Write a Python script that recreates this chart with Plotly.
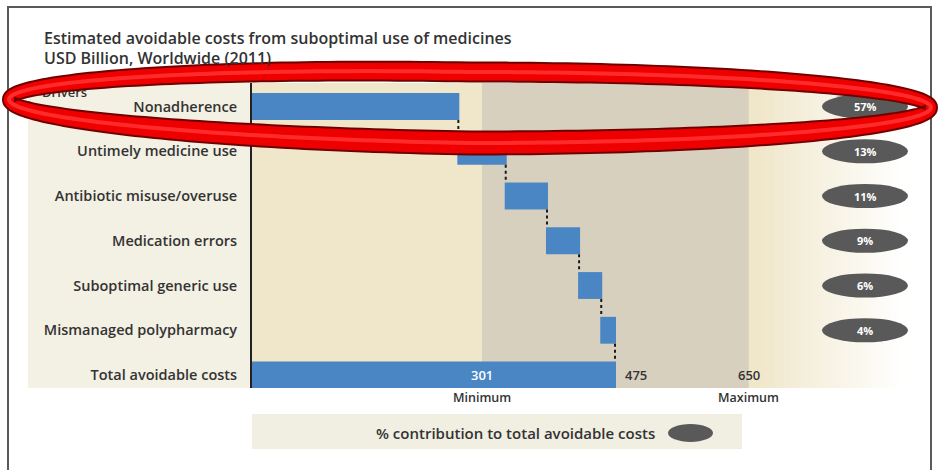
import math
import plotly.graph_objects as go

# ---- data -------------------------------------------------------------
drivers = [
    "Nonadherence",
    "Untimely medicine use",
    "Antibiotic misuse/overuse",
    "Medication errors",
    "Suboptimal generic use",
    "Mismanaged polypharmacy",
    "Total avoidable costs",
]
costs_bn = [270, 62, 54, 42, 29, 18]          # USD billion per driver
share_labels = ["57%", "13%", "11%", "9%", "6%", "4%"]
estimate_values = [301, 650]                   # range of the total estimate
estimate_labels = ["Minimum", "Maximum"]
title_lines = [
    "Estimated avoidable costs from suboptimal use of medicines",
    "USD Billion, Worldwide (2011)",
]
legend_text = "% contribution to total avoidable costs"

# ---- styling ----------------------------------------------------------
W, H = 939, 470
FONT = "Open Sans"
TEXT = "#333333"
BLUE = "#4a86c4"
CREAM = (240, 231, 203)
PANEL = "#f3f0e4"
BAND = "#d8d0bf"
PILL = "#595959"


def px(x):
    return x / W


def py(y):
    return 1 - y / H


# plot area in pixels
PL, PR, PT, PB = 252, 880, 83, 388
UNITS_PER_PX = 475 / 363
x_max = (PR - PL) * UNITS_PER_PX

measures = ["relative"] * len(costs_bn) + ["total"]
values = costs_bn + [0]

fig = go.Figure()

fig.add_trace(go.Waterfall(
    orientation="h",
    y=drivers,
    x=values,
    measure=measures,
    width=0.6,
    increasing=dict(marker=dict(color=BLUE)),
    totals=dict(marker=dict(color=BLUE)),
    decreasing=dict(marker=dict(color=BLUE)),
    connector=dict(mode="between", line=dict(color="#1a1a1a", width=2, dash="dot")),
    textinfo="none",
    hoverinfo="skip",
    showlegend=False,
))

# Heading of the label column, partly hidden under the red ring
fig.add_trace(go.Scatter(
    x=[42], y=[94], mode="text", text=["Drivers"], textposition="middle right",
    textfont=dict(family=FONT, size=13, color=TEXT, weight=600),
    xaxis="x2", yaxis="y2", cliponaxis=False, hoverinfo="skip", showlegend=False,
))

shapes = []
# left label panel
shapes.append(dict(type="rect", xref="paper", yref="paper",
                   x0=px(28), x1=px(PL), y0=py(PB), y1=py(PT),
                   fillcolor=PANEL, line=dict(width=0), layer="below"))
# cream plot area fading to white on the right
fade_start, fade_end = 760, 905
shapes.append(dict(type="rect", xref="paper", yref="paper",
                   x0=px(PL), x1=px(fade_start), y0=py(PB), y1=py(PT),
                   fillcolor="rgb(%d,%d,%d)" % CREAM, line=dict(width=0), layer="below"))
steps = 30
for i in range(steps):
    t = (i + 0.5) / steps
    c = tuple(int(round(CREAM[k] + (255 - CREAM[k]) * t)) for k in range(3))
    x0 = fade_start + (fade_end - fade_start) * i / steps
    x1 = fade_start + (fade_end - fade_start) * (i + 1) / steps + 0.6
    shapes.append(dict(type="rect", xref="paper", yref="paper",
                       x0=px(x0), x1=px(x1), y0=py(PB), y1=py(PT),
                       fillcolor="rgb(%d,%d,%d)" % c, line=dict(width=0), layer="below"))
# min-max estimate band
shapes.append(dict(type="rect", xref="x", yref="paper",
                   x0=estimate_values[0], x1=estimate_values[1], y0=py(PB), y1=py(PT),
                   fillcolor=BAND, line=dict(width=0), layer="below"))
# legend box
shapes.append(dict(type="rect", xref="paper", yref="paper",
                   x0=px(PL), x1=px(742), y0=py(449), y1=py(414),
                   fillcolor="#f1eee2", line=dict(width=0), layer="below"))
shapes.append(dict(type="circle", xref="paper", yref="paper",
                   x0=px(668), x1=px(713), y0=py(442), y1=py(424),
                   fillcolor=PILL, line=dict(width=0), layer="above"))
# share pills
for i, lab in enumerate(share_labels):
    shapes.append(dict(type="circle", xref="paper", yref="y",
                       x0=px(822), x1=px(908), y0=i - 0.27, y1=i + 0.27,
                       fillcolor=PILL, line=dict(width=0), layer="above"))
# outer frame
shapes.append(dict(type="rect", xref="paper", yref="paper",
                   x0=px(8), x1=px(931), y0=py(480), y1=py(7),
                   fillcolor="rgba(0,0,0,0)", line=dict(color="#5a5a5a", width=2),
                   layer="above"))


# red hand-drawn style ring around the first driver (pixel geometry)
def ring_point(t, side):
    cx, cy, a, b = 470, 107.5, 461, 35.5
    c, s = math.cos(t), math.sin(t)
    x = cx + a * c
    y = cy + b * s - 8 * max(0.0, (cx - x) / a)
    w = 12 + (7 if s < 0 else 11) * abs(s)
    nx, ny = b * c, a * s
    nl = math.hypot(nx, ny)
    return x + side * nx / nl * w / 2, y + side * ny / nl * w / 2


def ring_path(side, reverse=False):
    n = 240
    ts = [2 * math.pi * k / n for k in range(n)]
    if reverse:
        ts = ts[::-1]
    pts = [ring_point(t, side) for t in ts]
    return "M " + " L ".join("%.5f,%.5f" % (px(x), py(y)) for x, y in pts) + " Z"


shapes.append(dict(type="path", xref="paper", yref="paper",
                   path=ring_path(1) + " " + ring_path(-1, reverse=True),
                   fillcolor="#ee0000", fillrule="evenodd",
                   line=dict(color="#6e0000", width=2), layer="above"))
shapes.append(dict(type="path", xref="paper", yref="paper",
                   path=ring_path(0),
                   fillcolor="rgba(0,0,0,0)",
                   line=dict(color="#ff2b2b", width=4), layer="above"))

annotations = []
for k, line in enumerate(title_lines):
    annotations.append(dict(xref="paper", yref="paper", x=px(42), y=py(38 + 20 * k),
                            xanchor="left", yanchor="middle", showarrow=False,
                            text=line, font=dict(family=FONT, size=16, color=TEXT, weight=600)))
for i, lab in enumerate(share_labels):
    annotations.append(dict(xref="paper", yref="y", x=px(865), y=i,
                            xanchor="center", yanchor="middle", showarrow=False,
                            text=lab, font=dict(family=FONT, size=11, color="white", weight=700)))
total = sum(costs_bn)
annotations.append(dict(xref="x", yref="y", x=estimate_values[0], y=drivers[-1],
                        xanchor="center", yanchor="middle", showarrow=False,
                        text=str(estimate_values[0]),
                        font=dict(family=FONT, size=13, color="white", weight=600)))
annotations.append(dict(xref="x", yref="y", x=total, y=drivers[-1], xshift=8,
                        xanchor="left", yanchor="middle", showarrow=False,
                        text=str(total),
                        font=dict(family=FONT, size=13, color=TEXT, weight=600)))
annotations.append(dict(xref="x", yref="y", x=estimate_values[1], y=drivers[-1],
                        xanchor="center", yanchor="middle", showarrow=False,
                        text=str(estimate_values[1]),
                        font=dict(family=FONT, size=13, color=TEXT, weight=600)))
for v, lab in zip(estimate_values, estimate_labels):
    annotations.append(dict(xref="x", yref="paper", x=v, y=py(397),
                            xanchor="center", yanchor="middle", showarrow=False,
                            text=lab, font=dict(family=FONT, size=12.5, color=TEXT, weight=600)))
annotations.append(dict(xref="paper", yref="paper", x=px(515), y=py(433),
                        xanchor="center", yanchor="middle", showarrow=False,
                        text=legend_text, font=dict(family=FONT, size=15, color=TEXT, weight=600)))

fig.update_layout(
    width=W, height=H,
    margin=dict(l=0, r=0, t=0, b=0),
    paper_bgcolor="white",
    plot_bgcolor="rgba(0,0,0,0)",
    shapes=shapes,
    annotations=annotations,
    xaxis=dict(domain=[px(PL), px(PR)], range=[0, x_max], visible=False, fixedrange=True),
    yaxis=dict(domain=[py(PB), py(PT)], range=[6.29, -0.525], type="category",
               categoryorder="array", categoryarray=drivers,
               showline=True, linecolor="#222222", linewidth=2, ticks="",
               showgrid=False, zeroline=False, ticklabelstandoff=10,
               tickfont=dict(family=FONT, size=14.5, color=TEXT, weight=600)),
    xaxis2=dict(domain=[0, 1], range=[0, W], visible=False, anchor="y2", fixedrange=True),
    yaxis2=dict(domain=[0, 1], range=[H, 0], visible=False, anchor="x2", fixedrange=True),
)

fig.write_html("out.html")
